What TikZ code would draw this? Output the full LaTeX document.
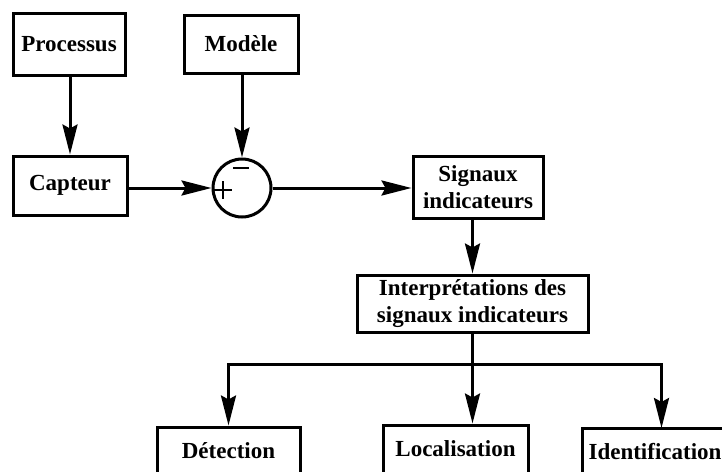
\documentclass[tikz,border=0pt]{standalone}
\usepackage{fontspec}
\setmainfont{Liberation Serif}
\usetikzlibrary{arrows.meta}
\begin{document}
\begin{tikzpicture}[x=1pt,y=-1pt,
  box/.style={draw,line width=3pt,inner sep=0pt,align=center,
    font=\fontsize{23}{27}\selectfont\bfseries},
  flow/.style={line width=3pt,-{Stealth[length=30pt,width=15pt,inset=4pt]}},
  wire/.style={line width=3pt},
  signstroke/.style={line width=2.2pt}]
\useasboundingbox (0,0) rectangle (722,471);

% top row: process, sensor, model
\node[box,minimum width=112pt,minimum height=62pt] (proc) at (69,44) {Processus};
\node[box,minimum width=114pt,minimum height=58pt] (mod) at (241,44) {Modèle};
\node[box,minimum width=114pt,minimum height=59pt] (capt) at (70,185.5) {Capteur};

% comparator with its plus and minus inputs
\node[draw,circle,line width=3pt,minimum size=58pt,inner sep=0pt] (sum) at (242,188) {};
\draw[signstroke] (214,190) -- (232,190) (223,181) -- (223,199);
\draw[signstroke] (233,168) -- (249,168);

% residual generation and interpretation
\node[box,minimum width=130pt,minimum height=62pt] (sig) at (478,187) {Signaux\\indicateurs};
\node[box,minimum width=231pt,minimum height=57pt] (interp) at (472.5,303.5) {Interprétations des\\signaux indicateurs};

% decision boxes
\node[box,minimum width=143pt,minimum height=48pt] (det) at (228.5,451) {Détection};
\node[box,minimum width=145pt,minimum height=48pt] (loc) at (455.5,449) {Localisation};
\node[box,minimum width=156pt,minimum height=48pt] (ident) at (660,452) {};
\node[font=\fontsize{23}{27}\selectfont\bfseries,inner sep=0pt] (identtext) at (655,452) {Identification};
\coordinate (identin) at (661.5,428);

% connections
\draw[flow] (proc.south -| capt.north) -- (capt.north);
\draw[flow] (mod.south -| sum.north) -- (sum.north);
\draw[flow] (capt.east |- sum.west) -- (sum.west);
\draw[flow] (sum.east) -- (sum.east -| sig.west);
\draw[flow] (sig.south -| interp.north) -- (interp.north);

\coordinate (split) at (472.5,364.5);
\draw[wire] (interp.south) -- (split);
\draw[flow] (split) -- (split |- loc.north);
\draw[flow] (split) -| (det.north);
\draw[flow] (split) -| (identin);
\end{tikzpicture}
\end{document}
